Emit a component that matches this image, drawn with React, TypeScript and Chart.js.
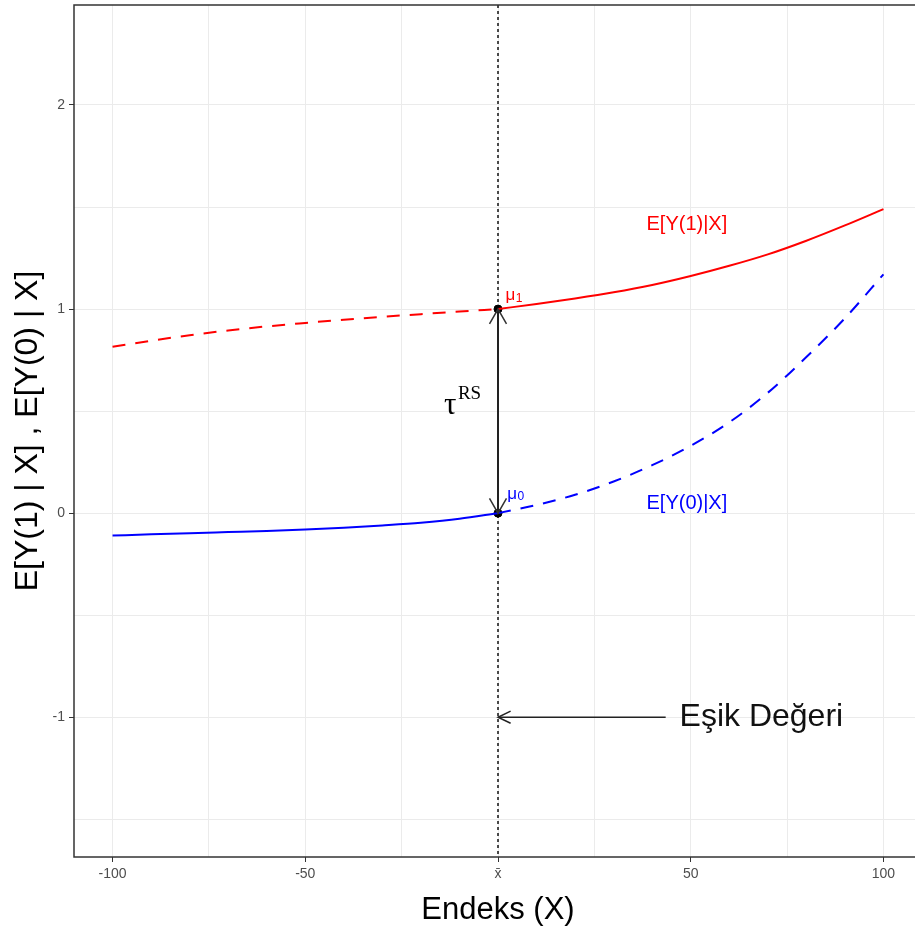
import React, { useEffect, useRef } from 'react';
import { Chart, registerables } from 'chart.js';

Chart.register(...registerables);

// ---- data ----
const leftX = [-100, -90, -80, -70, -60, -50, -40, -30, -20, -10, 0];
const rightX = [0, 10, 20, 30, 40, 50, 60, 70, 80, 90, 100];

// E[Y(1)|X]
const redLeftY = [0.815, 0.845, 0.872, 0.895, 0.915, 0.932, 0.948, 0.962, 0.975, 0.988, 1.0];
const redRightY = [1.0, 1.025, 1.052, 1.082, 1.118, 1.162, 1.212, 1.268, 1.335, 1.41, 1.49];
// E[Y(0)|X]
const blueLeftY = [-0.11, -0.104, -0.099, -0.093, -0.087, -0.08, -0.071, -0.06, -0.047, -0.028, 0];
const blueRightY = [0, 0.04, 0.09, 0.155, 0.235, 0.33, 0.445, 0.59, 0.765, 0.955, 1.17];

const cutoffX = 0;
const mu1 = 1.0;
const mu0 = 0.0;

const xTickValues = [-100, -75, -50, -25, 0, 25, 50, 75, 100];
const xTickLabels: Record<string, string> = { '-100': '-100', '-50': '-50', '0': 'x\u0304', '50': '50', '100': '100' };
const yTickValues = [-1.5, -1, -0.5, 0, 0.5, 1, 1.5, 2];
const yTickLabels: Record<string, string> = { '-1': '-1', '0': '0', '1': '1', '2': '2' };

const xTitle = 'Endeks (X)';
const yTitle = 'E[Y(1) | X] , E[Y(0) | X]';
const label1 = 'E[Y(1)|X]';
const label0 = 'E[Y(0)|X]';
const thresholdLabel = 'Eşik Değeri';

const RED = '#FF0000';
const BLUE = '#0000FF';
const SANS = "'Liberation Sans', Arial, sans-serif";
const SERIF = "'Liberation Serif', 'Times New Roman', serif";

function pts(xs: number[], ys: number[]) {
  return xs.map((x, i) => ({ x, y: ys[i] }));
}

function openHead(ctx: CanvasRenderingContext2D, tx: number, ty: number, fx: number, fy: number, len: number, ang: number) {
  const a = Math.atan2(fy - ty, fx - tx);
  ctx.beginPath();
  ctx.moveTo(tx + len * Math.cos(a + ang), ty + len * Math.sin(a + ang));
  ctx.lineTo(tx, ty);
  ctx.lineTo(tx + len * Math.cos(a - ang), ty + len * Math.sin(a - ang));
  ctx.stroke();
}

const annotPlugin = {
  id: 'annot',
  beforeDatasetsDraw(chart: any) {
    const { ctx, chartArea, scales } = chart;
    const px = scales.x.getPixelForValue(cutoffX);
    ctx.save();
    ctx.strokeStyle = '#000';
    ctx.lineWidth = 1.4;
    ctx.setLineDash([3, 3]);
    ctx.beginPath();
    ctx.moveTo(px, chartArea.top);
    ctx.lineTo(px, chartArea.bottom);
    ctx.stroke();
    ctx.restore();
  },
  afterDatasetsDraw(chart: any) {
    const { ctx, chartArea, scales } = chart;
    const X = (v: number) => scales.x.getPixelForValue(v);
    const Y = (v: number) => scales.y.getPixelForValue(v);
    ctx.save();

    // double arrow tau
    const ax = X(cutoffX);
    ctx.strokeStyle = '#222';
    ctx.lineWidth = 2;
    ctx.beginPath();
    ctx.moveTo(ax, Y(mu1));
    ctx.lineTo(ax, Y(mu0));
    ctx.stroke();
    ctx.lineWidth = 1.5;
    ctx.strokeStyle = '#333';
    openHead(ctx, ax, Y(mu1), ax, Y(mu0), 17, Math.PI / 6);
    openHead(ctx, ax, Y(mu0), ax, Y(mu1), 17, Math.PI / 6);

    // threshold arrow
    ctx.strokeStyle = '#222';
    ctx.lineWidth = 1.5;
    ctx.beginPath();
    ctx.moveTo(X(43.5), Y(-1));
    ctx.lineTo(X(cutoffX), Y(-1));
    ctx.stroke();
    openHead(ctx, X(cutoffX), Y(-1), X(43.5), Y(-1), 14, Math.PI / 7);

    // texts
    ctx.textBaseline = 'middle';
    ctx.textAlign = 'center';
    ctx.font = `20px ${SANS}`;
    ctx.fillStyle = RED;
    ctx.fillText(label1, X(49), Y(1.415));
    ctx.fillStyle = BLUE;
    ctx.fillText(label0, X(49), Y(0.046));

    // mu labels
    ctx.textAlign = 'left';
    const drawMu = (sub: string, xv: number, yv: number, color: string) => {
      ctx.fillStyle = color;
      ctx.font = `17px ${SANS}`;
      const x0 = X(xv);
      const y0 = Y(yv);
      ctx.fillText('\u03BC', x0, y0);
      const w = ctx.measureText('\u03BC').width;
      ctx.font = `12px ${SANS}`;
      ctx.fillText(sub, x0 + w + 0.5, y0 + 3);
    };
    drawMu('1', 1.95, 1.067, RED);
    drawMu('0', 2.4, 0.093, BLUE);

    // tau^RS
    ctx.fillStyle = '#000';
    ctx.textAlign = 'center';
    ctx.font = `31px ${SERIF}`;
    ctx.fillText('\u03C4', X(-12.4), Y(0.525));
    ctx.textAlign = 'left';
    ctx.font = `19px ${SERIF}`;
    ctx.fillText('RS', X(-10.4), Y(0.585));

    // threshold label
    ctx.textBaseline = 'alphabetic';
    ctx.font = `32px ${SANS}`;
    ctx.fillStyle = '#111';
    ctx.fillText(thresholdLabel, X(47.1), Y(-1.043));

    // panel border
    ctx.strokeStyle = '#333';
    ctx.lineWidth = 1.5;
    ctx.setLineDash([]);
    ctx.strokeRect(chartArea.left, chartArea.top, chartArea.right - chartArea.left, chartArea.bottom - chartArea.top);
    ctx.restore();
  },
};

export default function App() {
  const ref = useRef<HTMLCanvasElement | null>(null);
  useEffect(() => {
    if (!ref.current) return;
    Chart.defaults.font.family = SANS;
    const chart = new Chart(ref.current, {
      type: 'line',
      data: {
        datasets: [
          { data: pts(leftX, redLeftY), borderColor: RED, borderWidth: 2, borderDash: [13, 10], pointRadius: 0, cubicInterpolationMode: 'monotone', fill: false },
          { data: pts(rightX, redRightY), borderColor: RED, borderWidth: 2, pointRadius: 0, cubicInterpolationMode: 'monotone', fill: false },
          { data: pts(leftX, blueLeftY), borderColor: BLUE, borderWidth: 2, pointRadius: 0, cubicInterpolationMode: 'monotone', fill: false },
          { data: pts(rightX, blueRightY), borderColor: BLUE, borderWidth: 2, borderDash: [13, 10], pointRadius: 0, cubicInterpolationMode: 'monotone', fill: false },
          { data: [{ x: cutoffX, y: mu1 }, { x: cutoffX, y: mu0 }], showLine: false, pointRadius: 4, pointBackgroundColor: '#000', pointBorderColor: '#000', borderColor: '#000' },
        ],
      } as any,
      options: {
        responsive: false,
        animation: false,
        devicePixelRatio: 1,
        layout: { padding: { top: 4, right: 8, left: 0, bottom: 0 } },
        plugins: { legend: { display: false }, tooltip: { enabled: false } },
        scales: {
          x: {
            type: 'linear',
            min: -110,
            max: 110,
            afterFit: (s: any) => { s.height = 73; s.paddingLeft = 0; s.paddingRight = 0; },
            afterBuildTicks: (s: any) => { s.ticks = xTickValues.map((v) => ({ value: v })); },
            ticks: {
              autoSkip: false,
              maxRotation: 0,
              padding: 4,
              color: '#4D4D4D',
              font: { size: 14, family: SANS },
              callback: (v: any) => xTickLabels[String(v)] ?? '',
            },
            grid: {
              color: '#EBEBEB',
              lineWidth: 1,
              tickLength: 5,
              tickColor: (c: any) => (xTickLabels[String(c.tick?.value)] ? '#333' : 'rgba(0,0,0,0)'),
            },
            border: { display: false },
            title: { display: true, text: xTitle, color: '#000', font: { size: 31, family: SANS }, padding: { top: 0, bottom: 1 } },
          },
          y: {
            type: 'linear',
            min: -1.685,
            max: 2.49,
            afterFit: (s: any) => { s.width = 74; s.paddingTop = 0; s.paddingBottom = 0; },
            afterBuildTicks: (s: any) => { s.ticks = yTickValues.map((v) => ({ value: v })); },
            ticks: {
              autoSkip: false,
              padding: 4,
              color: '#4D4D4D',
              font: { size: 14, family: SANS },
              callback: (v: any) => yTickLabels[String(v)] ?? '',
            },
            grid: {
              color: '#EBEBEB',
              lineWidth: 1,
              tickLength: 5,
              tickColor: (c: any) => (yTickLabels[String(c.tick?.value)] ? '#333' : 'rgba(0,0,0,0)'),
            },
            border: { display: false },
            title: { display: true, text: yTitle, color: '#000', font: { size: 32, family: SANS }, padding: { top: 9, bottom: 0 } },
          },
        },
      } as any,
      plugins: [annotPlugin],
    });
    return () => chart.destroy();
  }, []);
  return (
    <div style={{ position: 'fixed', left: 0, top: 0, width: 930, height: 930, background: '#fff' }}>
      <canvas ref={ref} width={930} height={930} style={{ display: 'block' }} />
    </div>
  );
}
